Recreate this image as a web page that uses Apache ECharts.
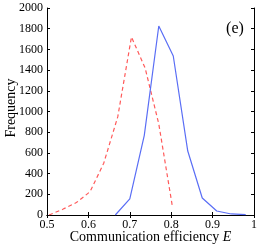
<!DOCTYPE html>
<html><head><meta charset="utf-8">
<script src="https://cdn.jsdelivr.net/npm/echarts@6/dist/echarts.min.js"></script>
<style>html,body{margin:0;padding:0;background:#fff}#c{width:258px;height:246px}</style>
</head><body><div id="c"></div>
<script>
const blueX = [0.665, 0.700, 0.735, 0.770, 0.805, 0.840, 0.875, 0.910, 0.945, 0.980];
const blueY = [0, 155, 770, 1826, 1536, 618, 164, 39, 10, 3];
const redX = [0.505, 0.538, 0.571, 0.604, 0.637, 0.671, 0.704, 0.737, 0.770, 0.803];
const redY = [0, 55, 120, 225, 500, 950, 1720, 1420, 880, 80];
const xTicks = ['0.5','0.6','0.7','0.8','0.9','1'];
const yTicks = ['0','200','400','600','800','1000','1200','1400','1600','1800','2000'];
const xTitle = 'Communication efficiency ';
const xTitleVar = 'E';
const yTitle = 'Frequency';
const panel = '(e)';

const font = 'Liberation Serif';
const chart = echarts.init(document.getElementById('c'), null, {renderer:'canvas'});
const axBase = {
  axisLine:{show:true,lineStyle:{color:'#000',width:1}},
  axisTick:{show:true,inside:true,length:3,lineStyle:{color:'#000'}},
  splitLine:{show:false}
};
const G = {left:47,right:4,top:8,bottom:31};
chart.setOption({
  animation:false,
  grid:Object.assign({containLabel:false,outerBoundsMode:'none'},G),
  xAxis:[
    Object.assign({type:'value',min:0.5,max:1,interval:0.1,position:'bottom',
      axisLabel:{color:'#000',fontFamily:font,fontSize:12,margin:4,
        formatter:(v)=>xTicks[Math.round((v-0.5)*10)]}
    },axBase),
    Object.assign({type:'value',min:0.5,max:1,interval:0.1,position:'top',axisLabel:{show:false}},axBase)
  ],
  yAxis:[
    Object.assign({type:'value',min:0,max:2000,interval:200,position:'left',
      axisLabel:{color:'#000',fontFamily:font,fontSize:12,margin:4,
        formatter:(v)=>yTicks[Math.round(v/200)]}
    },axBase),
    Object.assign({type:'value',min:0,max:2000,interval:200,position:'right',axisLabel:{show:false}},axBase)
  ],
  series:[
    {type:'line',data:redX.map((x,i)=>[x,redY[i]]),symbol:'none',
      lineStyle:{color:'#ff5a5a',width:1.2,type:[4,3]}},
    {type:'line',data:blueX.map((x,i)=>[x,blueY[i]]),symbol:'none',
      lineStyle:{color:'#5a6ef5',width:1.2}}
  ],
  graphic:[
    {type:'text',x:(G.left+258-G.right)/2,y:237,
      style:{text:'{n|'+xTitle+'}{i|'+xTitleVar+'}',align:'center',verticalAlign:'middle',
        rich:{n:{fontFamily:font,fontSize:14,fill:'#000'},i:{fontFamily:font,fontSize:14,fontStyle:'italic',fill:'#000'}}}},
    {type:'text',x:11,y:108,rotation:Math.PI/2,
      style:{text:yTitle,align:'center',verticalAlign:'middle',fontFamily:font,fontSize:14,fill:'#000'}},
    {type:'text',x:235,y:29,
      style:{text:panel,align:'center',verticalAlign:'middle',fontFamily:font,fontSize:16,fill:'#000'}}
  ]
});
</script></body></html>
